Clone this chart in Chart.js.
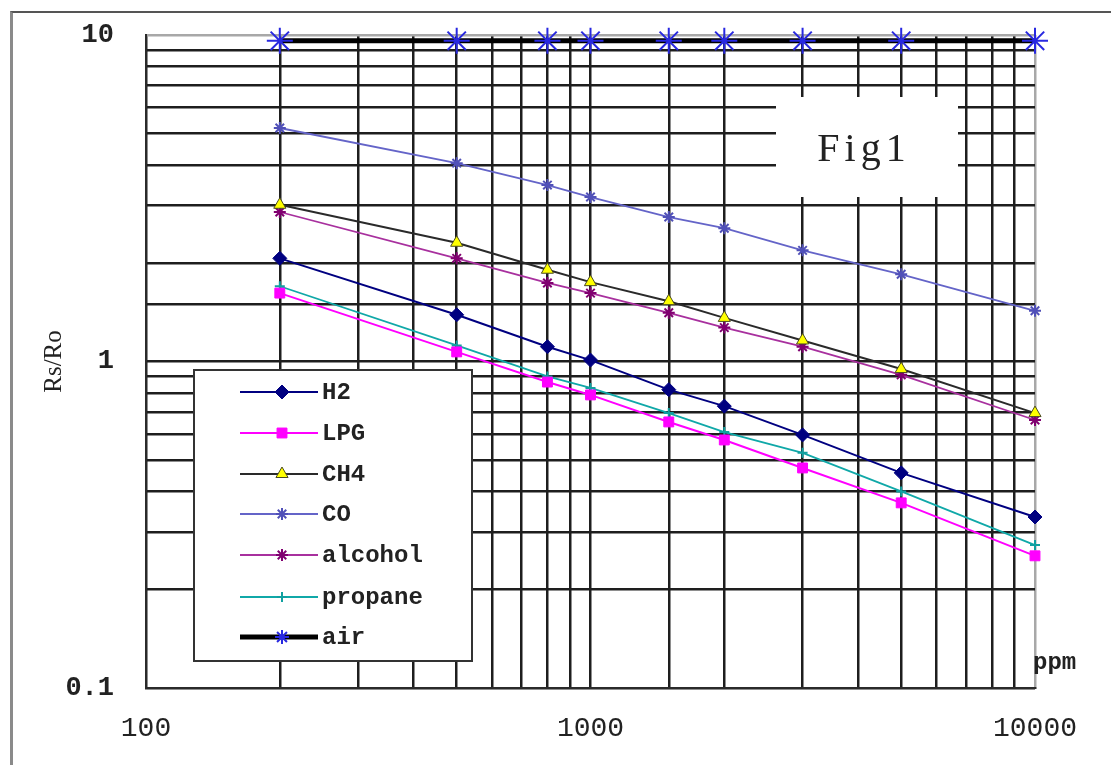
<!DOCTYPE html>
<html>
<head>
<meta charset="utf-8">
<script src="https://cdn.jsdelivr.net/npm/chart.js@4.4.1/dist/chart.umd.min.js"></script>
<style>
    body { margin: 0; background: #fff; }
    #wrap { position: relative; width: 1111px; height: 765px; }
    #frame {
        position: absolute; left: 10px; top: 11px; right: -5px; bottom: -5px;
        border-left: 3px solid #8a8a8a; border-top: 2px solid #555;
    }
    #wrap canvas { position: absolute; left: 0; top: 0; }
</style>
</head>
<body>
<div id="wrap">
    <div id="frame"></div>
    <canvas id="sensorChart" width="1111" height="765"></canvas>
</div>
<script>
// Nồng độ khí (ppm)
const ppm = [200, 500, 800, 1000, 1500, 2000, 3000, 5000, 10000];

// Tỉ số Rs/Ro
const h2      = [2.07, 1.39, 1.11, 1.01, 0.82, 0.73, 0.596, 0.456, 0.334];
const lpg     = [1.62, 1.07, 0.865, 0.79, 0.653, 0.575, 0.472, 0.369, 0.254];
const ch4     = [3.02, 2.31, 1.91, 1.75, 1.53, 1.36, 1.16, 0.948, 0.695];
const co      = [5.19, 4.05, 3.47, 3.19, 2.77, 2.56, 2.19, 1.85, 1.43];
const alcohol = [2.87, 2.07, 1.74, 1.62, 1.41, 1.27, 1.11, 0.91, 0.662];
const propane = [1.70, 1.12, 0.90, 0.83, 0.695, 0.608, 0.525, 0.40, 0.274];
const air     = [9.6, 9.6, 9.6, 9.6, 9.6, 9.6, 9.6, 9.6, 9.6];

const xTickLabels = [100, 1000, 10000];
const yTickLabels = [0.1, 1, 10];

function toPoints(values) {
    return ppm.map((x, i) => ({ x: x, y: values[i] }));
}

function isLabelTick(value, list) {
    return list.some(v => Math.abs(v - value) / v < 1e-6);
}

// Khung "Fig1" và chú thích vẽ trong vùng biểu đồ
const boxesPlugin = {
    id: 'boxes',
    beforeDatasetsDraw(chart) {
        const ctx = chart.ctx;
        ctx.save();
        // Ô Fig1
        ctx.fillStyle = '#fff';
        ctx.fillRect(776, 97, 182, 100);
        ctx.fillStyle = '#222';
        ctx.font = '40px "Liberation Serif"';
        ctx.letterSpacing = '5px';
        ctx.textAlign = 'center';
        ctx.textBaseline = 'middle';
        ctx.fillText('Fig1', 864, 150);
        ctx.restore();
    },
    afterDatasetsDraw(chart) {
        const ctx = chart.ctx;
        ctx.save();
        ctx.fillStyle = '#fff';
        ctx.fillRect(194, 370, 278, 291);
        ctx.strokeStyle = '#333';
        ctx.lineWidth = 2;
        ctx.strokeRect(194, 370, 278, 291);

        const rows = [392, 433, 474, 514, 555, 597, 637];
        chart.data.datasets.forEach((ds, i) => {
            const y = rows[i];
            ctx.strokeStyle = ds.borderColor;
            ctx.lineWidth = ds.borderWidth;
            ctx.beginPath();
            ctx.moveTo(240, y);
            ctx.lineTo(318, y);
            ctx.stroke();
            ctx.fillStyle = ds.pointBackgroundColor;
            ctx.strokeStyle = ds.pointBorderColor;
            ctx.lineWidth = ds.pointBorderWidth;
            Chart.helpers.drawPoint(ctx, {
                pointStyle: ds.pointStyle,
                radius: Math.min(ds.pointRadius, 7),
                rotation: 0,
                borderWidth: ds.pointBorderWidth
            }, 282, y);
            ctx.fillStyle = '#222';
            ctx.font = 'bold 24px "Liberation Mono"';
            ctx.textAlign = 'left';
            ctx.textBaseline = 'middle';
            ctx.fillText(ds.label, 322, y + 1);
        });

        // Đơn vị trục x
        ctx.fillStyle = '#222';
        ctx.font = 'bold 24px "Liberation Mono"';
        ctx.textAlign = 'left';
        ctx.textBaseline = 'middle';
        ctx.fillText('ppm', 1033, 663);
        ctx.restore();
    }
};

function series(label, values, line, fill, style, radius, width, border) {
    return {
        label: label,
        data: toPoints(values),
        borderColor: line,
        borderWidth: width,
        pointStyle: style,
        pointRadius: radius,
        pointHoverRadius: radius,
        pointBackgroundColor: fill,
        pointBorderColor: border || fill,
        pointBorderWidth: style === 'star' || style === 'cross' ? 2 : 1,
        tension: 0,
        clip: false
    };
}

const gridColor = (ctx) => {
    const v = ctx.tick ? ctx.tick.value : 0;
    return (v >= 9999 || (v > 9.9 && v < 10.1)) ? '#a8a8a8' : '#1e1e1e';
};

new Chart(document.getElementById('sensorChart'), {
    type: 'line',
    data: {
        datasets: [
            series('H2', h2, '#000080', '#000080', 'rectRot', 7, 2),
            series('LPG', lpg, '#ff00ff', '#ff00ff', 'rect', 7, 2),
            series('CH4', ch4, '#2a2a2a', '#ffff00', 'triangle', 7, 2, '#4a4a20'),
            series('CO', co, '#6464c8', '#5050b8', 'star', 6, 1.8),
            series('alcohol', alcohol, '#a8309e', '#800070', 'star', 6, 1.8),
            series('propane', propane, '#10a8a8', '#10a0a0', 'cross', 5, 1.8),
            series('air', air, '#000000', '#2828e0', 'star', 13, 5)
        ]
    },
    options: {
        responsive: false,
        animation: false,
        layout: { padding: { left: 12, top: 35, right: 76, bottom: 0 } },
        plugins: {
            legend: { display: false },
            tooltip: { enabled: false }
        },
        scales: {
            x: {
                type: 'logarithmic',
                min: 100,
                max: 10000,
                afterFit: (scale) => { scale.height = 77; },
                border: { color: '#2a2a2a', width: 2 },
                grid: { color: gridColor, lineWidth: 2.5, drawTicks: false },
                ticks: {
                    autoSkip: false,
                    maxRotation: 0,
                    padding: 24,
                    color: '#222',
                    font: { family: '"Liberation Mono"', size: 28 },
                    callback: (value) => isLabelTick(value, xTickLabels) ? String(value) : ''
                }
            },
            y: {
                type: 'logarithmic',
                min: 0.1,
                max: 10,
                afterFit: (scale) => {
                    scale.width = 134;
                    scale.paddingTop = 0;
                    scale.paddingBottom = 0;
                },
                border: { color: '#2a2a2a', width: 2 },
                grid: { color: gridColor, lineWidth: 2.5, drawTicks: false },
                title: {
                    display: true,
                    text: 'Rs/Ro',
                    color: '#222',
                    font: { family: '"Liberation Serif"', size: 25 },
                    padding: { top: 27, bottom: 0 }
                },
                ticks: {
                    autoSkip: false,
                    padding: 32,
                    color: '#222',
                    font: { family: '"Liberation Mono"', size: 27, weight: 'bold' },
                    callback: (value) => isLabelTick(value, yTickLabels) ? (value === 0.1 ? '0.1' : String(value)) : ''
                }
            }
        }
    },
    plugins: [boxesPlugin]
});
</script>
</body>
</html>
